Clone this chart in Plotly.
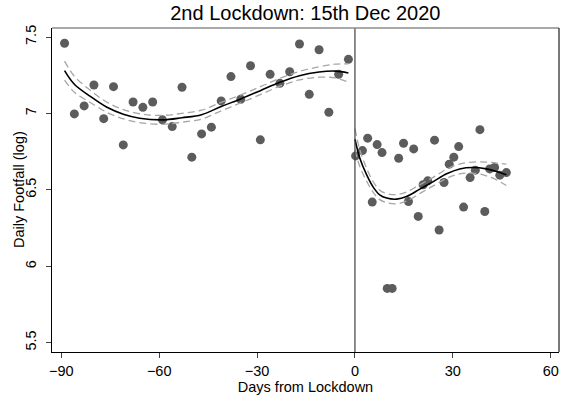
import plotly.graph_objects as go

# Daily footfall (log) around the second lockdown
pre_days = [-89, -86, -83, -80, -77, -74, -71, -68, -65, -62, -59, -56, -53, -50, -47,
            -44, -41, -38, -35, -32, -29, -26, -23, -20, -17, -14, -11, -8, -5, -2]
pre_vals = [7.459, 6.997, 7.049, 7.186, 6.966, 7.175, 6.794, 7.075, 7.040, 7.075,
            6.958, 6.914, 7.171, 6.714, 6.866, 6.910, 7.082, 7.241, 7.093, 7.312,
            6.827, 7.256, 7.197, 7.273, 7.454, 7.125, 7.417, 7.008, 7.256, 7.354]

post_days = [0.2, 2.3, 3.9, 5.3, 6.8, 8.3, 9.9, 11.4, 13.4, 14.9, 16.4, 18.0, 19.4, 20.9,
             22.3, 24.4, 25.8, 27.3, 28.9, 30.3, 31.8, 33.3, 35.3, 36.9, 38.3, 39.8,
             41.3, 42.8, 44.4, 46.4]
post_vals = [6.722, 6.757, 6.838, 6.420, 6.796, 6.744, 5.855, 5.855, 6.707, 6.805,
             6.424, 6.768, 6.326, 6.533, 6.559, 6.825, 6.237, 6.548, 6.668, 6.714,
             6.783, 6.387, 6.580, 6.629, 6.894, 6.358, 6.637, 6.646, 6.596, 6.613]

# Fitted trend with 95% confidence band, before lockdown
pre_fit_x = [-89, -86, -81, -76, -71, -66, -59, -53, -47, -41, -35, -29, -23, -17, -11, -6, -2]
pre_fit_y = [7.280, 7.191, 7.110, 7.040, 6.995, 6.969, 6.958, 6.972, 6.992, 7.045,
             7.095, 7.149, 7.204, 7.247, 7.271, 7.277, 7.265]
pre_fit_se = [0.062, 0.052, 0.040, 0.033, 0.030, 0.029, 0.029, 0.029, 0.029, 0.028,
              0.026, 0.026, 0.026, 0.028, 0.034, 0.045, 0.060]

# Fitted trend with 95% confidence band, after lockdown
post_fit_x = [0, 1.5, 3.6, 5.6, 7.6, 9.7, 12.8, 15.8, 19.9, 24.0, 28.1, 32.1, 36.2,
              40.3, 43.4, 46.4]
post_fit_y = [6.831, 6.707, 6.598, 6.518, 6.467, 6.446, 6.439, 6.456, 6.505, 6.554,
              6.605, 6.637, 6.646, 6.637, 6.620, 6.598]
post_fit_se = [0.070, 0.055, 0.042, 0.035, 0.031, 0.030, 0.030, 0.030, 0.029, 0.028,
               0.030, 0.032, 0.036, 0.045, 0.055, 0.070]

x_ticks = [-90, -60, -30, 0, 30, 60]
y_ticks = [5.5, 6, 6.5, 7, 7.5]
y_tick_text = ["5.5", "6", "6.5", "7", "7.5"]

FONT = "Liberation Sans, Arial, sans-serif"
DOT = "#5c5c5c"
BAND = "#a6a6a6"

fig = go.Figure()

for xs, ys in [(pre_days, pre_vals), (post_days, post_vals)]:
    fig.add_trace(go.Scatter(x=xs, y=ys, mode="markers",
                             marker=dict(size=9, color=DOT, line=dict(width=0)),
                             showlegend=False, hoverinfo="skip"))

for fx, fy, se in [(pre_fit_x, pre_fit_y, pre_fit_se), (post_fit_x, post_fit_y, post_fit_se)]:
    hi = [a + b for a, b in zip(fy, se)]
    lo = [a - b for a, b in zip(fy, se)]
    for band in (hi, lo):
        fig.add_trace(go.Scatter(x=fx, y=band, mode="lines",
                                 line=dict(color=BAND, width=1.3, dash="7px,4px", shape="spline"),
                                 showlegend=False, hoverinfo="skip"))
    fig.add_trace(go.Scatter(x=fx, y=fy, mode="lines",
                             line=dict(color="black", width=1.6, shape="spline"),
                             showlegend=False, hoverinfo="skip"))

# Lockdown date marker
fig.add_shape(type="line", x0=0, x1=0, y0=0, y1=1, xref="x", yref="paper",
              line=dict(color="#404040", width=1.2))
# Plot region frame: top and right edges
fig.add_shape(type="line", x0=0, x1=1, y0=1, y1=1, xref="paper", yref="paper",
              line=dict(color="#8c8c8c", width=1.5))
fig.add_shape(type="line", x0=1, x1=1, y0=0, y1=1, xref="paper", yref="paper",
              line=dict(color="#303030", width=1.3))

# Vertical axis title
fig.add_annotation(text="Daily Footfall (log)", textangle=-90, showarrow=False,
                   xref="paper", yref="paper", x=-0.065, y=0.5,
                   xanchor="center", yanchor="middle", font=dict(size=14.5))

fig.update_layout(
    width=567, height=398,
    margin=dict(l=52, r=8, t=28, b=46),
    paper_bgcolor="white", plot_bgcolor="white",
    font=dict(family=FONT, color="black", size=14.5),
    title=dict(text="2nd Lockdown: 15th Dec 2020", x=0.5385, xanchor="center",
               y=0.967, yanchor="middle", font=dict(size=20, family=FONT, color="black")),
    xaxis=dict(range=[-92.85, 62.54], tickvals=x_ticks, showgrid=False, zeroline=False,
               showline=True, linecolor="black", linewidth=1.3,
               ticks="outside", ticklen=5, tickcolor="#404040", tickwidth=1,
               tickfont=dict(size=14.5), title=dict(text="Days from Lockdown", standoff=0,
                                                    font=dict(size=14.5))),
    yaxis=dict(range=[5.439, 7.559], tickvals=y_ticks, ticktext=y_tick_text, tickangle=-90,
               showgrid=False, zeroline=False,
               showline=True, linecolor="black", linewidth=1.3,
               ticks="outside", ticklen=5, tickcolor="#404040", tickwidth=1,
               ticklabelstandoff=4, tickfont=dict(size=14.5)),
)

fig.write_html("out.html")
